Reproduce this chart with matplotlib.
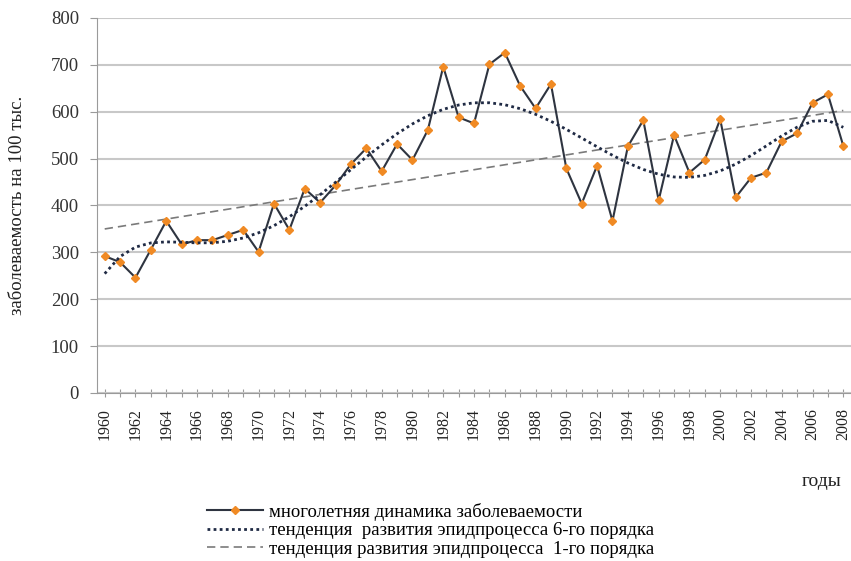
import numpy as np
import matplotlib
matplotlib.use("Agg")
import matplotlib.pyplot as plt

# DATA
years = list(range(1960, 2009))
incidence = [292, 279, 246, 306, 367, 317, 326, 326, 337, 348,
             301, 404, 348, 436, 406, 443, 488, 522, 473, 531,
             497, 561, 696, 588, 575, 701, 726, 655, 607, 659,
             479, 404, 485, 367, 526, 582, 411, 550, 470, 498,
             584, 417, 459, 470, 537, 554, 619, 637, 527]
y_ticks = [0, 100, 200, 300, 400, 500, 600, 700, 800]

legend_labels = [
    "многолетняя динамика заболеваемости",
    "тенденция  развития эпидпроцесса 6-го порядка",
    "тенденция развития эпидпроцесса  1-го порядка",
]

plt.rcParams["font.family"] = ["Liberation Serif", "DejaVu Serif"]

# trend lines (polynomial fits of the series, as the spreadsheet does)
idx = np.arange(1, len(years) + 1)
vals = np.array(incidence, dtype=float)
trend6 = np.polyval(np.polyfit(idx, vals, 6), idx)
trend1 = np.polyval(np.polyfit(idx, vals, 1), idx)

fig = plt.figure(figsize=(8.51, 5.61), dpi=100)
ax = fig.add_axes([0.114, 0.2995, 0.886, 0.6685])

pos = np.arange(len(years))
ax.plot(pos, incidence, color="#2e3440", lw=1.5, marker="D", ms=4.5,
        mfc="#f08a24", mec="#f08a24", label=legend_labels[0], zorder=3)
ax.plot(pos, trend6, color="#1f2a44", lw=2.0, ls=(0, (1, 1.2)),
        label=legend_labels[1], zorder=4)
ax.plot(pos, trend1, color="#7a7a7a", lw=1.2, ls=(0, (5, 3)),
        label=legend_labels[2], zorder=2)

ax.set_xlim(-0.5, len(years) - 0.5)
ax.set_ylim(0, 800)
ax.set_yticks(y_ticks)
ax.yaxis.grid(True, color="#c8c8c8", lw=1.5)
ax.set_axisbelow(True)

ax.set_xticks(pos)
ax.set_xticklabels([str(y) if y % 2 == 0 else "" for y in years],
                   rotation=90, fontsize=11.5, color="#222222")
ax.tick_params(axis="x", direction="inout", length=6, color="#9a9a9a", pad=8)
ax.tick_params(axis="y", direction="out", length=5, color="#9a9a9a",
               labelsize=13.5, labelcolor="#333333", pad=8)

for s in ["top", "right"]:
    ax.spines[s].set_visible(False)
ax.spines["left"].set_color("#9a9a9a")
ax.spines["bottom"].set_color("#9a9a9a")

ax.set_ylabel("заболеваемость на 100 тыс.", fontsize=13.5, color="#222222")
ax.yaxis.set_label_coords(-0.094, 0.5)
fig.text(822 / 851, 1 - 482 / 561, "годы", fontsize=14, ha="center", va="center", color="#222222")

fig.legend(loc="upper left", bbox_to_anchor=(207 / 851, 1 - 503 / 561), frameon=False,
           fontsize=13.5, handlelength=3.0, handletextpad=0.3, labelspacing=0.06,
           borderpad=0, borderaxespad=0)

fig.savefig("out.png", dpi=100)
